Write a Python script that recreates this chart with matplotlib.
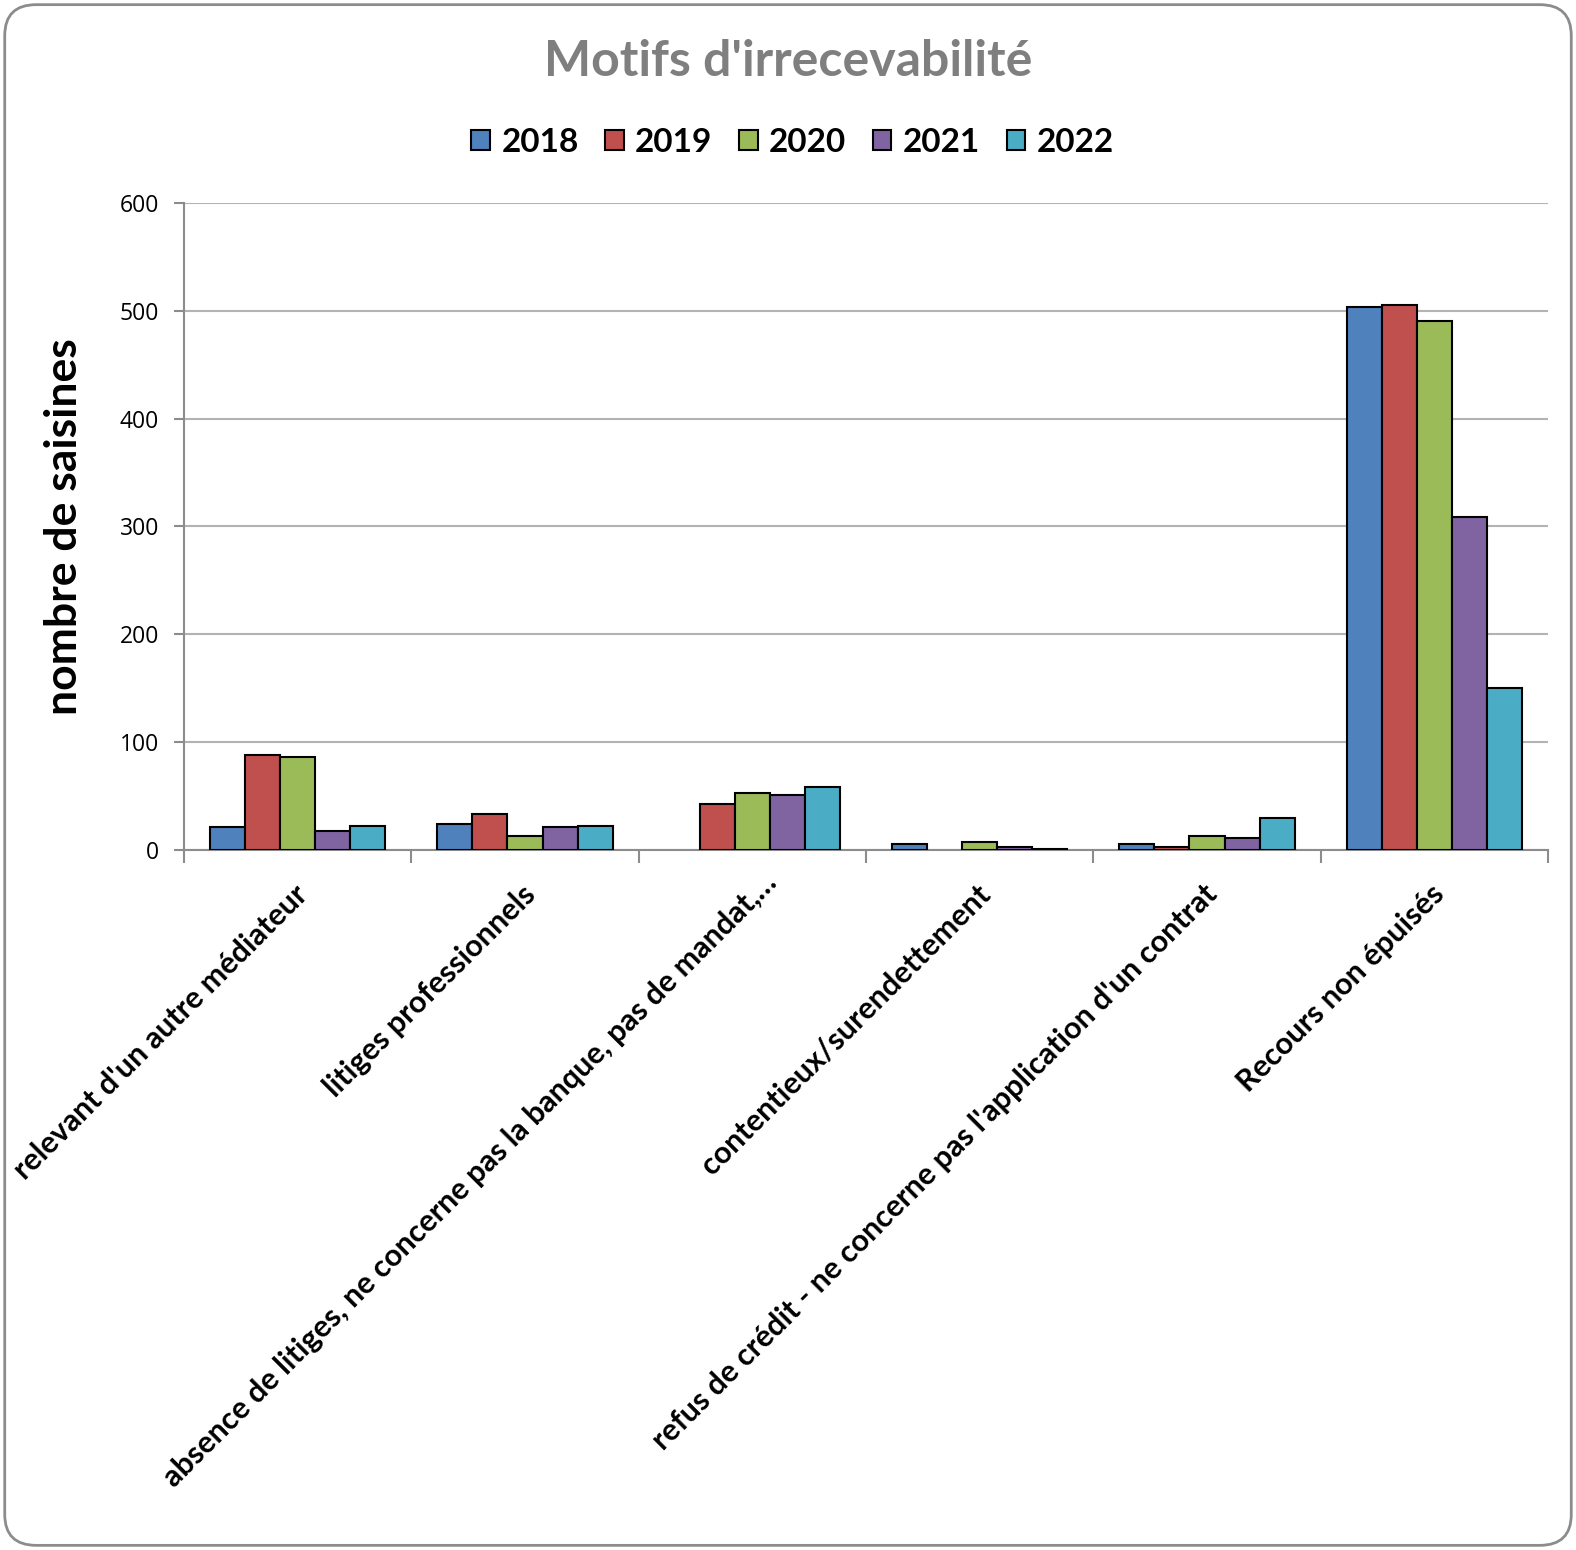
import matplotlib
matplotlib.use("Agg")
import matplotlib.pyplot as plt
import numpy as np
from matplotlib.patches import FancyBboxPatch, Patch

categories = [
    "relevant d'un autre médiateur",
    "litiges professionnels",
    "absence de litiges, ne concerne pas la banque, pas de mandat,…",
    "contentieux/surendettement",
    "refus de crédit - ne concerne pas l'application d'un contrat",
    "Recours non épuisés",
]
years = ["2018", "2019", "2020", "2021", "2022"]
v2018 = [21, 24, 0, 6, 6, 504]
v2019 = [88, 33, 43, 0, 3, 505]
v2020 = [86, 13, 53, 7, 13, 491]
v2021 = [18, 21, 51, 3, 11, 309]
v2022 = [22, 22, 58, 1, 30, 150]
series = [v2018, v2019, v2020, v2021, v2022]
colors = ["#4F81BD", "#C0504D", "#9BBB59", "#8064A2", "#4BACC6"]
yticks = [0, 100, 200, 300, 400, 500, 600]

FONT = "Lato"
TICKFONT = "Open Sans"
PX = 72 / 100.0  # points per pixel

fig = plt.figure(figsize=(15.76, 15.5), dpi=100)
ax = fig.add_axes([184/1576, 1 - 850/1550, (1548-184)/1576, (850-203)/1550])

# border
border = FancyBboxPatch((0.003, 0.003), 0.994, 0.994,
                        boxstyle="round,pad=0,rounding_size=0.02",
                        transform=fig.transFigure, fill=False,
                        edgecolor="#8c8c8c", linewidth=2.0, zorder=0)
fig.patches.append(border)

x = np.arange(len(categories))
bw = 0.154
for i, (vals, c) in enumerate(zip(series, colors)):
    lws = [1.5 if v > 0 else 0 for v in vals]
    ax.bar(x + (i - 2) * bw, vals, width=bw, color=c, edgecolor="black",
           linewidth=lws, label=years[i], zorder=3)

ax.set_xlim(-0.5, len(categories) - 0.5)
ax.set_ylim(0, 600)
ax.set_yticks(yticks)
ax.set_yticklabels([str(t) for t in yticks], fontsize=16.5, family=TICKFONT)
ax.yaxis.grid(True, color="#b3b3b3", linewidth=1.5, zorder=0)
ax.set_axisbelow(True)

for s in ["top", "right"]:
    ax.spines[s].set_visible(False)
for s in ["left", "bottom"]:
    ax.spines[s].set_color("#8c8c8c")
    ax.spines[s].set_linewidth(1.5)

ax.tick_params(axis="y", direction="out", length=7, width=1.5, color="#8c8c8c", pad=11)
ax.set_xticks(np.arange(-0.5, len(categories)))
ax.set_xticklabels([])
ax.tick_params(axis="x", direction="out", length=9, width=1.5, color="#8c8c8c")

# category labels (rotated)
offsets = [(-4, 0), (-4, 0), (10, 12), (-4, 0), (-4, 0), (-4, 0)]
for i, lab in enumerate(categories):
    dx, dy = offsets[i]
    ax.annotate(lab, xy=(x[i], 0), xycoords=("data", "axes fraction"),
                xytext=(dx * PX, -30 * PX + dy * PX), textcoords="offset points",
                rotation=45, ha="right", va="top", rotation_mode="anchor",
                fontsize=22, fontweight="bold", family=FONT, annotation_clip=False)

ax.set_ylabel("nombre de saisines", fontsize=32, fontweight="bold", family=FONT, labelpad=26)

fig.text(0.5, 1 - 62/1550, "Motifs d'irrecevabilité", ha="center", va="center",
         fontsize=36, fontweight="bold", color="#7f7f7f", family=FONT)

handles = [Patch(facecolor=c, edgecolor="black", linewidth=1.5) for c in colors]
fig.legend(handles, years, loc="center", bbox_to_anchor=(0.503, 1 - 142/1550), ncol=5,
           frameon=False, prop={"family": FONT, "weight": "bold", "size": 24},
           handlelength=0.55, handleheight=0.55, handletextpad=0.35, columnspacing=0.8)

fig.savefig("out.png", dpi=100)
